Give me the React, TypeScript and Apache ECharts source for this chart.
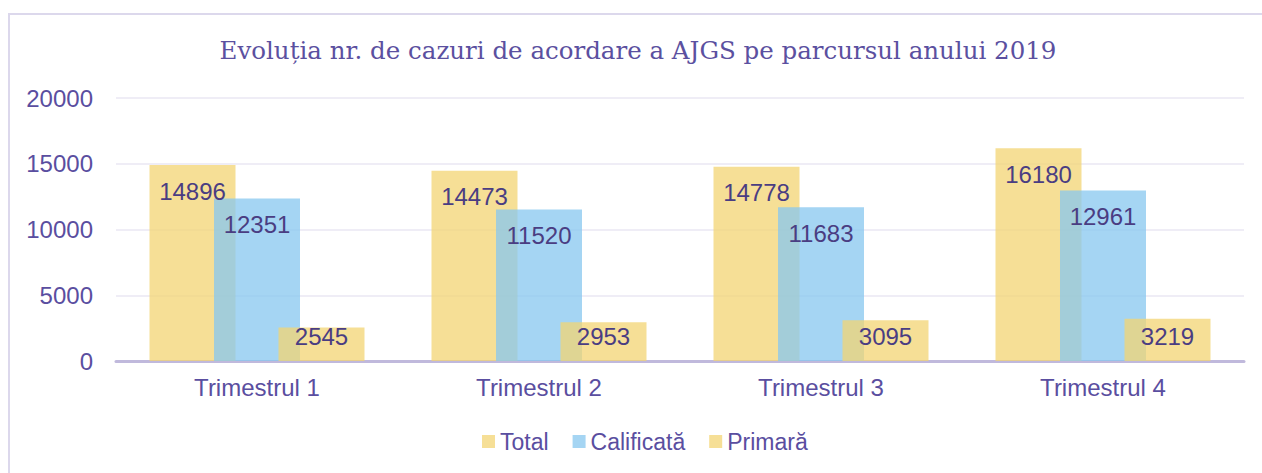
import React, { useEffect, useRef } from "react";
import * as echarts from "echarts";

const titleText = "Evoluția nr. de cazuri de acordare a AJGS pe parcursul anului 2019";
const categories = ["Trimestrul 1", "Trimestrul 2", "Trimestrul 3", "Trimestrul 4"];
const seriesNames = ["Total", "Calificată", "Primară"];
const totalValues = [14896, 14473, 14778, 16180];
const calificataValues = [12351, 11520, 11683, 12961];
const primaraValues = [2545, 2953, 3095, 3219];
const yTicks = { min: 0, max: 20000, interval: 5000 };

const SANS = "Liberation Sans";
const AXIS_COLOR = "#5a4ea0";
const LABEL_COLOR = "#4a3d82";
const YELLOW = "rgba(243,212,115,0.75)";
const BLUE = "rgba(135,199,239,0.75)";

export default function App() {
  const ref = useRef<HTMLDivElement>(null);
  useEffect(() => {
    if (!ref.current) return;
    const chart = echarts.init(ref.current, undefined, { renderer: "svg" });
    const label = (pos: string, distance: number) => ({
      show: true,
      position: pos,
      distance,
      color: LABEL_COLOR,
      fontSize: 24,
      fontFamily: SANS,
    });
    chart.setOption({
      animation: false,
      backgroundColor: "#ffffff",
      graphic: [
        {
          type: "rect",
          shape: { x: 9, y: 14, width: 1400, height: 600 },
          style: { fill: "none", stroke: "#dcd8ec", lineWidth: 2 },
          silent: true,
        },
        {
          type: "text",
          x: 638,
          y: 50,
          style: {
            text: titleText,
            fontFamily: "DejaVu Serif",
            fontSize: 24.5,
            fill: "#5b50a0",
            textAlign: "center",
            textVerticalAlign: "middle",
          },
        },
      ],
      legend: {
        data: seriesNames,
        left: 477,
        top: 425,
        itemWidth: 13,
        itemHeight: 13,
        itemGap: 24,
        icon: "rect",
        textStyle: { color: AXIS_COLOR, fontSize: 23, fontFamily: SANS },
      },
      grid: { left: 116, right: 18, top: 98, bottom: 112, containLabel: false },
      xAxis: {
        type: "category",
        data: categories,
        axisLine: { show: true, lineStyle: { color: "#c0b9dc", width: 3 } },
        axisTick: { show: false },
        axisLabel: { color: AXIS_COLOR, fontSize: 24, fontFamily: SANS, margin: 14 },
      },
      yAxis: {
        type: "value",
        min: yTicks.min,
        max: yTicks.max,
        interval: yTicks.interval,
        axisLine: { show: false },
        axisTick: { show: false },
        splitLine: { lineStyle: { color: "#efedf6", width: 2 } },
        axisLabel: {
          color: AXIS_COLOR,
          fontSize: 24,
          fontFamily: SANS,
          margin: 23,
          formatter: (v: number) => String(v),
        },
      },
      series: [
        {
          name: seriesNames[0],
          type: "bar",
          data: totalValues,
          barWidth: 86,
          barGap: "-25%",
          itemStyle: { color: YELLOW },
          label: label("insideTop", 14),
        },
        {
          name: seriesNames[1],
          type: "bar",
          data: calificataValues,
          barWidth: 86,
          barGap: "-25%",
          itemStyle: { color: BLUE },
          label: label("insideTop", 14),
        },
        {
          name: seriesNames[2],
          type: "bar",
          data: primaraValues,
          barWidth: 86,
          barGap: "-25%",
          itemStyle: { color: YELLOW },
          label: label("insideBottom", 13),
        },
      ],
    });
    return () => chart.dispose();
  }, []);
  return (
    <div
      ref={ref}
      style={{ position: "fixed", left: 0, top: 0, width: 1262, height: 473 }}
    />
  );
}
